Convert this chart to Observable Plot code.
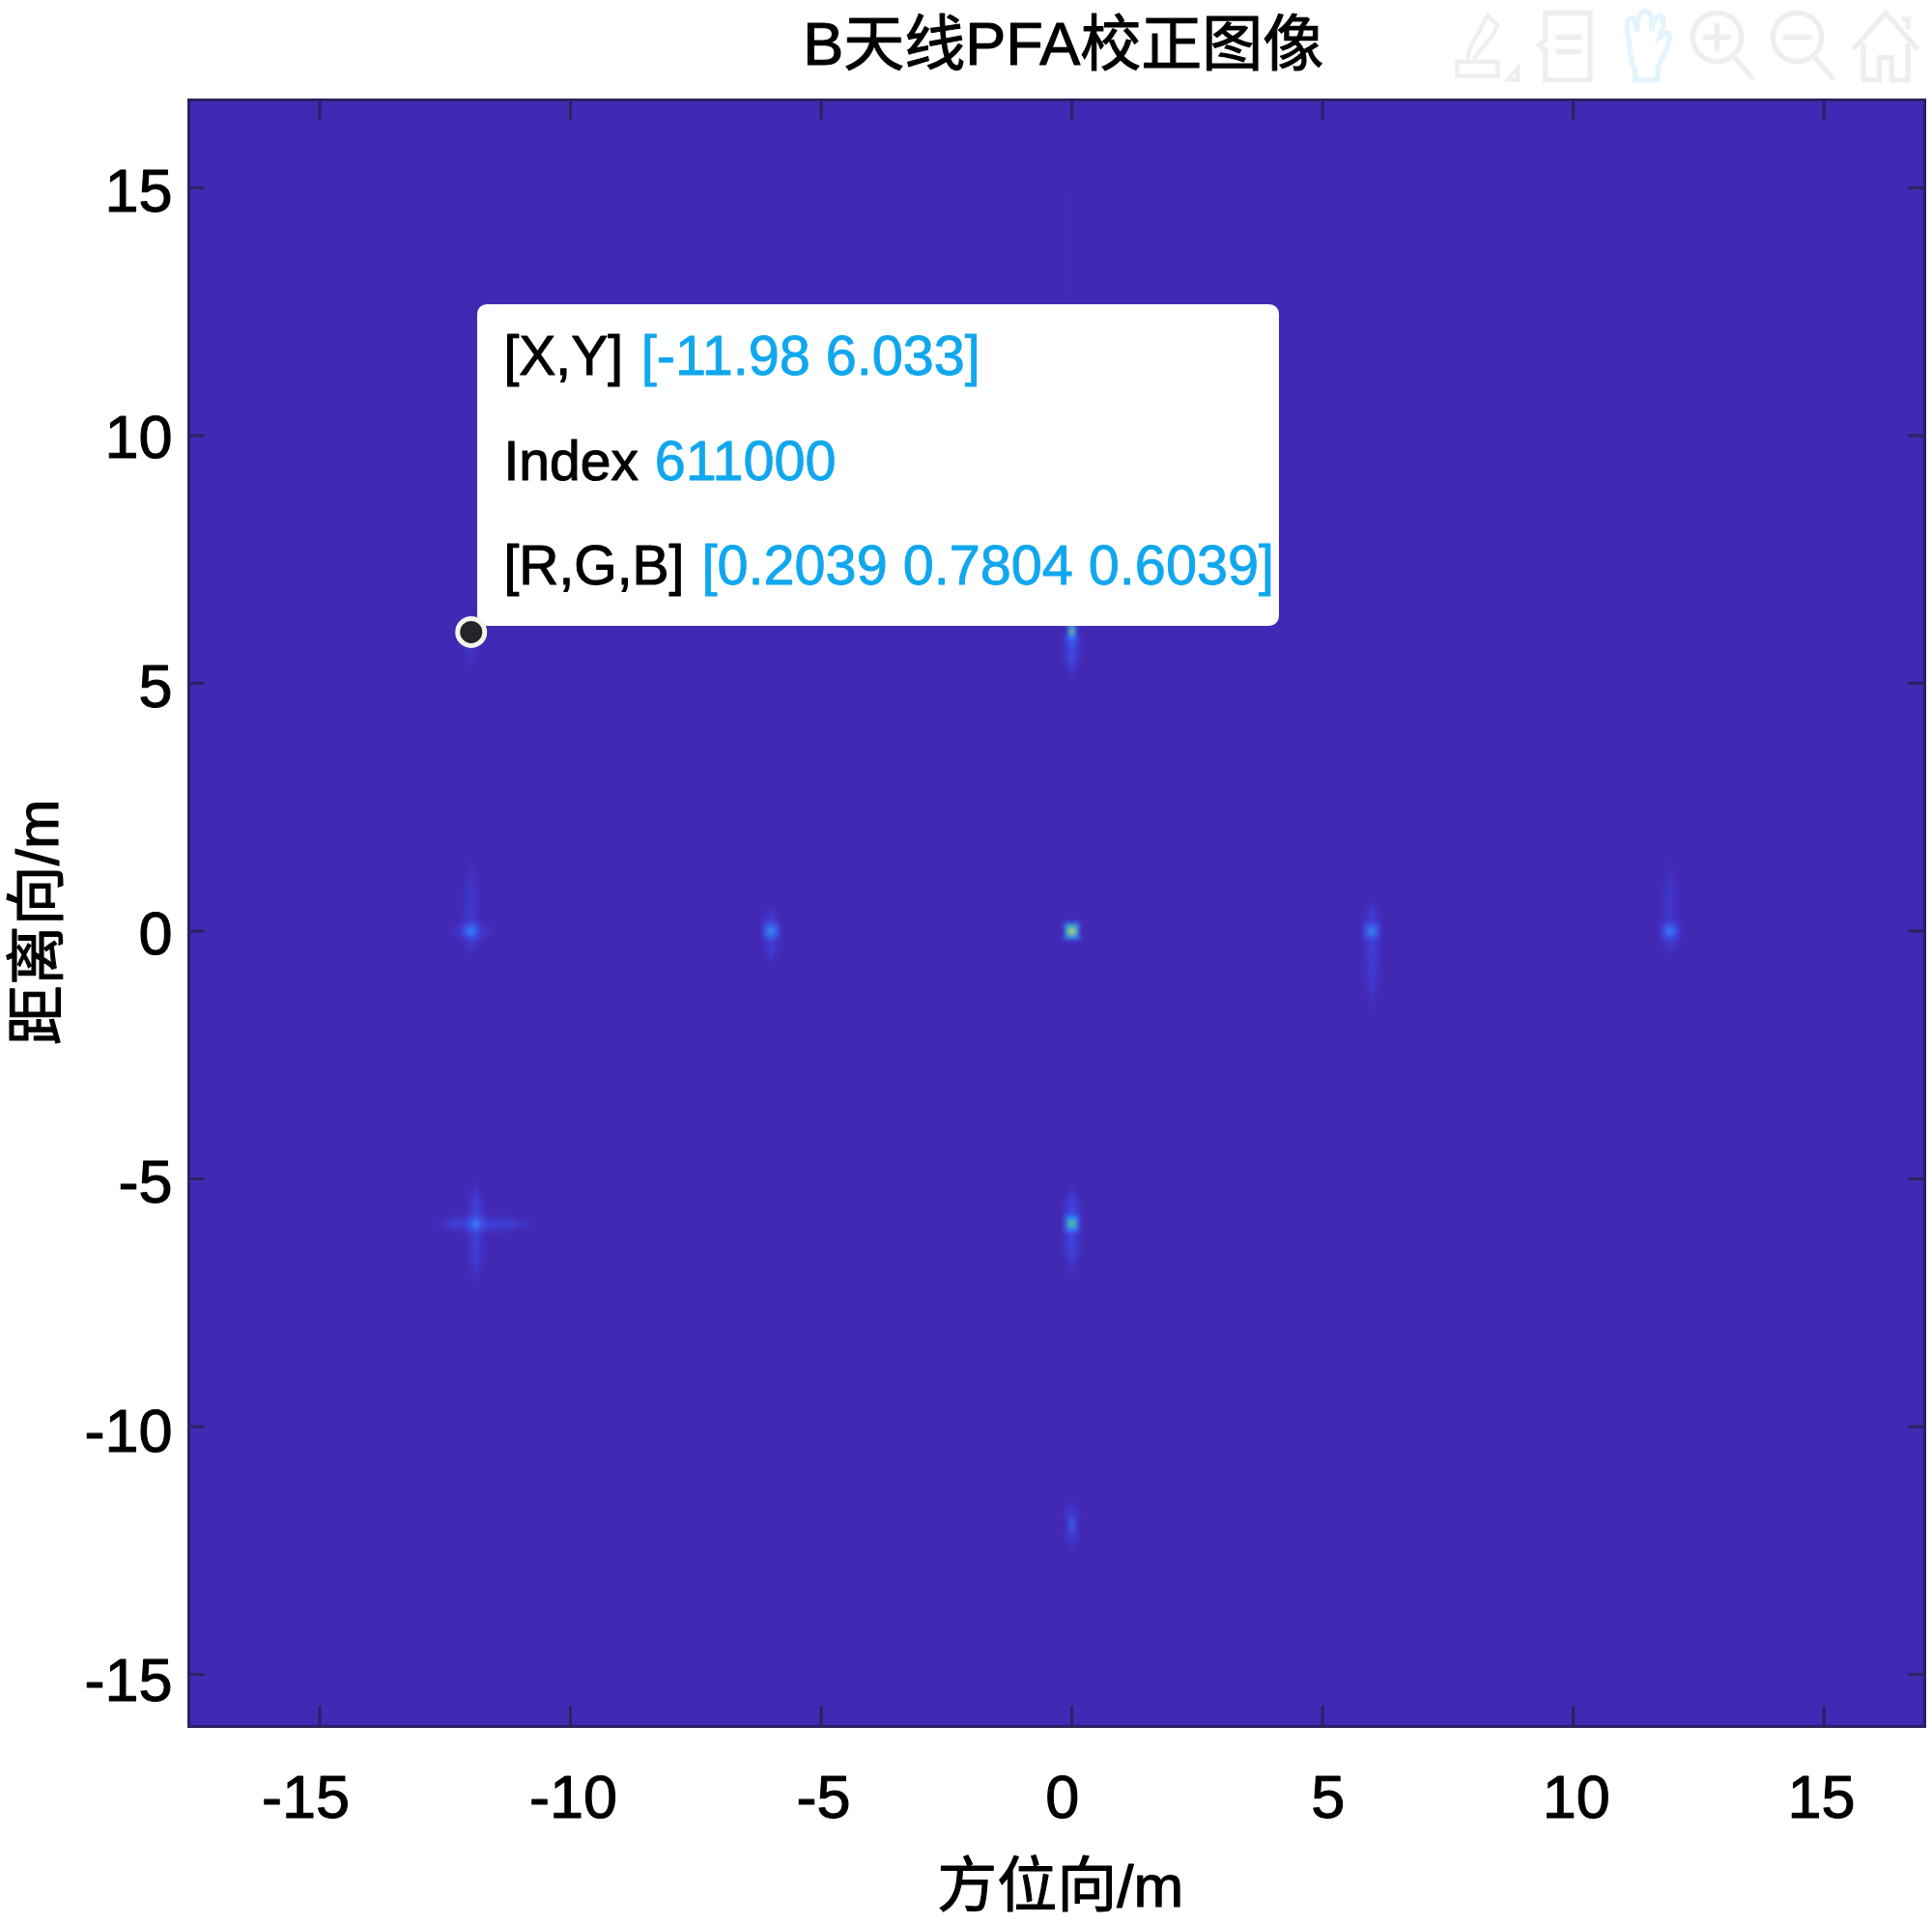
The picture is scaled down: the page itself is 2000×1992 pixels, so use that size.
<!DOCTYPE html>
<html>
<head>
<meta charset="utf-8">
<style>html,body{margin:0;padding:0;background:#fff}svg{display:block}</style>
<script src="https://cdn.jsdelivr.net/npm/d3@7"></script>
<script src="https://cdn.jsdelivr.net/npm/@observablehq/plot@0.6"></script>
</head>
<body>
<div id="chart"></div>
<script>
// ---------- axes ----------
const xDomain = [-17.61, 17.01];
const yDomain = [-16.05, 16.77];
const xTicks = [-15, -10, -5, 0, 5, 10, 15];
const yTicks = [-15, -10, -5, 0, 5, 10, 15];
const tickLabels = ["-15", "-10", "-5", "0", "5", "10", "15"];
const xLabelAt = [-15.28, -9.94, -4.95, -0.19, 5.11, 10.06, 14.95];
const yLabelAt = [-15.14, -10.11, -5.08, -0.07, 4.92, 9.94, 14.92];

// ---------- point targets ----------
const spotX     = [-11.98, -6.0, 0.0, 5.98, 11.93, -11.89, 0.0, 0.0, 0.0, -11.98];
const spotY     = [0.0, 0.0, 0.0, 0.0, 0.0, -5.91, -5.9, -11.98, 6.05, 6.03];
const spotPeak  = [0.40, 0.46, 1.00, 0.42, 0.38, 0.40, 0.72, 0.30, 0.72, 0.12];
const spotArm   = [0.07, 0.09, 0.03, 0.09, 0.07, 0.10, 0.12, 0.08, 0.15, 0.05];
const spotUp    = [1.70, 0.60, 0.20, 0.70, 1.65, 1.00, 0.90, 0.60, 0.30, 0.30];
const spotDown  = [0.60, 0.80, 0.20, 1.90, 0.60, 1.40, 1.20, 0.60, 1.10, 0.85];
const spotLeft  = [0.50, 0.20, 0.15, 0.20, 0.25, 0.90, 0.15, 0.10, 0.10, 0.10];
const spotRight = [0.55, 0.20, 0.15, 0.20, 0.25, 1.30, 0.15, 0.10, 0.10, 0.10];

// faint range sidelobe above the centre column
const faintX = [0.0];
const faintTop = [12.5];
const faintBottom = [15.0];

// parula-like colour stops
const colorStops  = [0, 0.10, 0.22, 0.32, 0.45, 0.58, 0.72];
const colorValues = ["#4229b4", "#3f3fd8", "#3a62f0", "#2f8cf2", "#35b4b4", "#7fc088", "#bdbda5"];

// ---------- data tip ----------
const tipX = [-11.98];
const tipY = [6.033];
const boxX1 = [-11.85], boxX2 = [4.14], boxY1 = [6.15], boxY2 = [12.64];
const tipLabels = ["[X,Y]", "Index", "[R,G,B]"];
const tipValues = ["[-11.98 6.033]", "611000", "[0.2039 0.7804 0.6039]"];
const tipLineY = [11.59, 9.46, 7.36];
const tipLabelX = [-11.33, -11.33, -11.33];
const tipValueX = [-8.59, -8.32, -7.38];

// ---------- toolbar ----------
const toolX = [8.25, 9.89, 11.48, 12.99, 14.59, 16.23];
const toolY = [17.87, 17.87, 17.87, 17.87, 17.87, 17.87];
const g = "#eeeeee";
const toolIcons = [
  `<path d="M12 70h40v-14H12zM22 54c2-14 8-20 14-32l6-12 10 10-6 12c-6 6-14 16-18 22M62 74l10-12v12z" fill="none" stroke="${g}" stroke-width="4"/>`,
  `<path d="M18 8h44v66H18V46l-6-6 6-6zM28 32h26M28 46h26" fill="none" stroke="${g}" stroke-width="5"/>`,
  `<path d="M22 36c-2-10-4-18 0-22 4-4 6 4 8 12 0-12 2-20 8-20s6 8 6 20c2-10 6-18 10-14s0 12-2 20c4-4 8-6 10-2 0 10-8 22-12 32v12H28V66C24 56 22 46 22 36z" fill="none" stroke="#e4f4fd" stroke-width="5"/>`,
  `<circle cx="34" cy="32" r="24" fill="none" stroke="${g}" stroke-width="5"/><path d="M20 32h28M34 18v28M50 50l20 24" fill="none" stroke="${g}" stroke-width="5"/>`,
  `<circle cx="34" cy="32" r="24" fill="none" stroke="${g}" stroke-width="5"/><path d="M20 32h28M50 50l20 24" fill="none" stroke="${g}" stroke-width="5"/>`,
  `<path d="M8 44L40 8l32 36M18 38v36h16V52h12v22h16V38M56 14h6v10" fill="none" stroke="${g}" stroke-width="5"/>`
].map(s => "data:image/svg+xml;charset=utf-8," + encodeURIComponent(
  `<svg xmlns="http://www.w3.org/2000/svg" width="80" height="80" viewBox="0 0 80 80">${s}</svg>`));

// ---------- text ----------
const titleText = ["B天线PFA校正图像"];
const xTitle = ["方位向/m"];
const yTitle = ["距离向/m"];

// ---------- tables ----------
const latin = "'Liberation Sans', Arial, sans-serif";
const cjk = "'Liberation Sans', 'Noto Sans CJK SC', sans-serif";
const labelOf = (at) => new Map(at.map((d, i) => [d, tickLabels[i]]));
const xLabelMap = labelOf(xLabelAt);
const yLabelMap = labelOf(yLabelAt);

// samples of the image: peak, arms and a zero-valued collar round every spot
const samples = [];
const add = (x, y, v) => samples.push({x, y, v});
[[xDomain[0], yDomain[0]], [xDomain[0], yDomain[1]], [xDomain[1], yDomain[0]], [xDomain[1], yDomain[1]]]
  .forEach(([x, y]) => add(x, y, 0));
spotX.forEach((x, i) => {
  const y = spotY[i], p = spotPeak[i], a = spotArm[i];
  const U = spotUp[i], D = spotDown[i], L = spotLeft[i], R = spotRight[i];
  const core = 0.09, w = 0.2;
  add(x, y, p);
  add(x, y + core, p * 0.55); add(x, y - core, p * 0.55);
  add(x - core, y, p * 0.55); add(x + core, y, p * 0.55);
  for (const [sx, sy] of [[-1, -1], [1, -1], [-1, 1], [1, 1]]) add(x + sx * w, y + sy * w, 0);
  add(x, y + U, 0); add(x, y - D, 0); add(x - L, y, 0); add(x + R, y, 0);
  if (U > 0.35) { add(x, y + w, a * 1.2); add(x, y + U * 0.5, a); add(x - w, y + U * 0.5, 0); add(x + w, y + U * 0.5, 0); }
  if (D > 0.35) { add(x, y - w, a * 1.2); add(x, y - D * 0.5, a); add(x - w, y - D * 0.5, 0); add(x + w, y - D * 0.5, 0); }
  if (L > 0.35) { add(x - w, y, a * 1.2); add(x - L * 0.5, y, a); add(x - L * 0.5, y + w, 0); add(x - L * 0.5, y - w, 0); }
  if (R > 0.35) { add(x + w, y, a * 1.2); add(x + R * 0.5, y, a); add(x + R * 0.5, y + w, 0); add(x + R * 0.5, y - w, 0); }
});

const tickColor = "#2a2260";
const heavy = {stroke: "#000", strokeWidth: 1.1};
const plot = Plot.plot({
  width: 2000,
  height: 1992,
  marginLeft: 195,
  marginRight: 8,
  marginTop: 103,
  marginBottom: 205,
  style: {background: "#fff", overflow: "visible"},
  x: {domain: xDomain},
  y: {domain: yDomain},
  color: {type: "linear", domain: colorStops, range: colorValues, interpolate: "rgb", clamp: true},
  marks: [
    Plot.raster(samples, {
      x: "x", y: "y", fill: "v",
      x1: xDomain[0], x2: xDomain[1], y1: yDomain[0], y2: yDomain[1],
      interpolate: "barycentric", pixelSize: 1, blur: 1.5
    }),
    Plot.rect(faintX, {x1: d => d - 0.03, x2: d => d + 0.03, y1: () => faintTop[0], y2: () => faintBottom[0], fill: "#4a33c0", fillOpacity: 0.35}),
    // inward ticks on all four sides
    Plot.ruleX(xTicks, {x: d => d, y1: yDomain[0], y2: yDomain[0] + 0.40, stroke: tickColor, strokeWidth: 3}),
    Plot.ruleX(xTicks, {x: d => d, y1: yDomain[1], y2: yDomain[1] - 0.42, stroke: tickColor, strokeWidth: 3}),
    Plot.ruleY(yTicks, {y: d => d, x1: xDomain[0], x2: xDomain[0] + 0.32, stroke: tickColor, strokeWidth: 3}),
    Plot.ruleY(yTicks, {y: d => d, x1: xDomain[1], x2: xDomain[1] - 0.32, stroke: tickColor, strokeWidth: 3}),
    Plot.frame({stroke: tickColor, strokeWidth: 3}),
    // tick labels
    Plot.axisX(xLabelAt, {anchor: "bottom", tickSize: 0, tickPadding: 50, fontSize: 63, fontFamily: latin, fill: "#000",
      textStroke: "#000", textStrokeWidth: 1.1, label: null, tickFormat: d => xLabelMap.get(d)}),
    Plot.axisY(yLabelAt, {anchor: "left", tickSize: 0, tickPadding: 17, fontSize: 63, fontFamily: latin, fill: "#000",
      textStroke: "#000", textStrokeWidth: 1.1, label: null, tickFormat: d => yLabelMap.get(d)}),
    // titles
    Plot.text(titleText, {x: () => -0.17, y: () => 17.87, text: d => d, fontSize: 63, fontFamily: cjk, fill: "#000", ...heavy}),
    Plot.text(xTitle, {x: () => -0.23, y: () => -19.3, text: d => d, fontSize: 62, fontFamily: cjk, fill: "#000", ...heavy}),
    Plot.text(yTitle, {x: () => -20.6, y: () => 0.18, text: d => d, rotate: -90, fontSize: 62, fontFamily: cjk, fill: "#000", ...heavy}),
    // toolbar
    Plot.image(toolIcons, {x: (d, i) => toolX[i], y: (d, i) => toolY[i], src: d => d, width: 84, height: 84}),
    // data tip
    Plot.rect(boxX1, {x1: d => d, x2: () => boxX2[0], y1: () => boxY1[0], y2: () => boxY2[0], fill: "#fff", rx: 10}),
    Plot.text(tipLabels, {x: (d, i) => tipLabelX[i], y: (d, i) => tipLineY[i], text: d => d, textAnchor: "start", fontSize: 57, fontFamily: latin, fill: "#000", ...heavy}),
    Plot.text(tipValues, {x: (d, i) => tipValueX[i], y: (d, i) => tipLineY[i], text: d => d, textAnchor: "start", fontSize: 57.6, fontFamily: latin, fill: "#11a7ee", stroke: "#11a7ee", strokeWidth: 0.9}),
    Plot.dot(tipX, {x: d => d, y: () => tipY[0], r: 14, fill: "#24242a", stroke: "#f4f4ea", strokeWidth: 5})
  ]
});
document.getElementById("chart").appendChild(plot);
</script>
</body>
</html>
